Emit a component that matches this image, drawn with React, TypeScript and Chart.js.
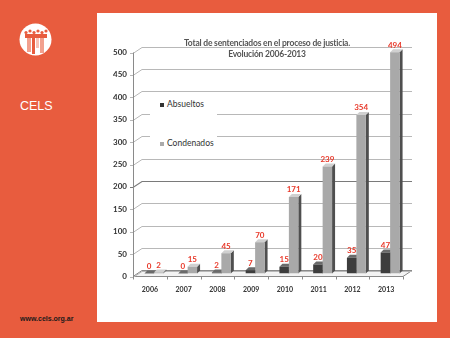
import React, { useEffect, useRef } from "react";
import { Chart, registerables } from "chart.js";

Chart.register(...registerables);

const years = ["2006", "2007", "2008", "2009", "2010", "2011", "2012", "2013"];
const absueltos = [0, 0, 2, 7, 15, 20, 35, 47];
const condenados = [2, 15, 45, 70, 171, 239, 354, 494];
const seriesNames = ["Absueltos", "Condenados"];
const yTicks = { min: 0, max: 500, step: 50 };

const ORANGE = "#E85C3E";
const DEPTH_X = 9;
const DEPTH_Y = 6;
const BAR_SHIFT_X = 4;
const BAR_SHIFT_Y = 3;
const BDX = 3;
const BDY = 3;

const frontColors = ["#3d3d3d", "#a9a9a9"];
const sideColors = ["#1e1e1e", "#4f4f4f"];
const topColors = ["#6a6a6a", "#d0d0d0"];

const fake3d = {
  id: "fake3d",
  beforeDatasetsDraw(chart: any) {
    const { ctx, chartArea } = chart;
    const { left, right } = chartArea;
    const y = chart.scales.y;
    const B = y.getPixelForValue(0);
    ctx.save();
    // floor
    ctx.beginPath();
    ctx.moveTo(left, B);
    ctx.lineTo(right, B);
    ctx.lineTo(right + DEPTH_X, B - DEPTH_Y);
    ctx.lineTo(left + DEPTH_X, B - DEPTH_Y);
    ctx.closePath();
    ctx.fillStyle = "#f3f3f3";
    ctx.fill();
    ctx.strokeStyle = "#8a8a8a";
    ctx.lineWidth = 1;
    ctx.stroke();
    // gridlines (3D)
    for (let v = yTicks.min; v <= yTicks.max; v += yTicks.step) {
      const py = Math.round(y.getPixelForValue(v)) + 0.5;
      ctx.beginPath();
      ctx.moveTo(left - 3, py);
      ctx.lineTo(left, py);
      ctx.lineTo(left + DEPTH_X, py - DEPTH_Y);
      ctx.lineTo(right + DEPTH_X, py - DEPTH_Y);
      ctx.strokeStyle = v === 200 ? "#7a7a7a" : "#b8b8b8";
      ctx.lineWidth = v === 200 ? 1.2 : 1;
      ctx.stroke();
    }
    // left axis
    ctx.beginPath();
    ctx.moveTo(left + 0.5, B + 2);
    ctx.lineTo(left + 0.5, y.getPixelForValue(yTicks.max));
    ctx.strokeStyle = "#8a8a8a";
    ctx.lineWidth = 1;
    ctx.stroke();
    // x tick marks
    const n = years.length;
    const w = (right - left) / n;
    for (let i = 0; i <= n; i++) {
      const px = Math.round(left + i * w) + 0.5;
      ctx.beginPath();
      ctx.moveTo(px, B);
      ctx.lineTo(px, B + 3);
      ctx.stroke();
    }
    ctx.restore();

    // bars: side & top faces (behind fronts)
    ctx.save();
    ctx.translate(BAR_SHIFT_X, -BAR_SHIFT_Y);
    chart.data.datasets.forEach((ds: any, di: number) => {
      const meta = chart.getDatasetMeta(di);
      meta.data.forEach((el: any) => {
        const p = el.getProps(["x", "y", "base", "width"], true);
        const l = p.x - p.width / 2;
        const r = p.x + p.width / 2;
        ctx.beginPath();
        ctx.moveTo(r, p.y);
        ctx.lineTo(r + BDX, p.y - BDY);
        ctx.lineTo(r + BDX, p.base - BDY);
        ctx.lineTo(r, p.base);
        ctx.closePath();
        ctx.fillStyle = sideColors[di];
        ctx.fill();
        ctx.beginPath();
        ctx.moveTo(l, p.y);
        ctx.lineTo(l + BDX, p.y - BDY);
        ctx.lineTo(r + BDX, p.y - BDY);
        ctx.lineTo(r, p.y);
        ctx.closePath();
        ctx.fillStyle = topColors[di];
        ctx.fill();
      });
    });
  },
  afterDatasetsDraw(chart: any) {
    const { ctx } = chart;
    ctx.font = "bold 8px Lato, 'Liberation Sans', sans-serif";
    ctx.fillStyle = "#e8392a";
    ctx.textAlign = "center";
    ctx.textBaseline = "middle";
    chart.data.datasets.forEach((ds: any, di: number) => {
      const meta = chart.getDatasetMeta(di);
      meta.data.forEach((el: any, i: number) => {
        const p = el.getProps(["x", "y"], true);
        ctx.fillText(String(ds.data[i]), p.x, p.y - 7);
      });
    });
    ctx.restore();
  },
};

function ChartPanel() {
  const ref = useRef<HTMLCanvasElement>(null);
  useEffect(() => {
    if (!ref.current) return;
    const chart = new Chart(ref.current, {
      type: "bar",
      data: {
        labels: years,
        datasets: [
          { label: seriesNames[0], data: absueltos, backgroundColor: frontColors[0], borderWidth: 0, categoryPercentage: 0.56, barPercentage: 1 },
          { label: seriesNames[1], data: condenados, backgroundColor: frontColors[1], borderWidth: 0, categoryPercentage: 0.56, barPercentage: 1 },
        ],
      },
      options: {
        responsive: false,
        animation: false,
        layout: { padding: { left: 0, top: 39.5, right: 34, bottom: 0 } },
        plugins: { legend: { display: false }, title: { display: false }, tooltip: { enabled: false } },
        scales: {
          x: {
            grid: { display: false, drawTicks: false },
            border: { display: false },
            ticks: { padding: 9, color: "#333", font: { family: "Lato, 'Liberation Sans', sans-serif", size: 7, weight: "bold" }, maxRotation: 0 },
            afterFit: (s: any) => { s.height = 45.5; },
          },
          y: {
            min: yTicks.min,
            max: yTicks.max,
            grid: { display: false, drawTicks: false },
            border: { display: false },
            ticks: { stepSize: yTicks.step, padding: 6, color: "#333", font: { family: "Lato, 'Liberation Sans', sans-serif", size: 8, weight: "bold" } },
            afterFit: (s: any) => { s.width = 36; },
          },
        },
      },
      plugins: [fake3d],
    });
    return () => chart.destroy();
  }, []);
  return <canvas ref={ref} width={340} height={309} style={{ position: "absolute", left: 0, top: 0, width: 340, height: 309 }} />;
}

export default function App() {
  return (
    <div style={{ position: "fixed", left: 0, top: 0, width: 450, height: 338, background: ORANGE, overflow: "hidden", fontFamily: "'Liberation Sans', Arial, sans-serif" }}>
      <svg width={40} height={40} style={{ position: "absolute", left: 16, top: 20 }} viewBox="0 0 40 40">
        <circle cx={19.5} cy={19.5} r={16} fill="#fff" />
        {[10, 14, 18, 22, 26, 30].map((cx, i) => (
          <circle key={"h" + i} cx={cx} cy={i % 2 ? 11 : 12.5} r={1.6} fill={ORANGE} />
        ))}
        <rect x={9} y={14} width={22} height={4} fill={ORANGE} />
        <rect x={11} y={18} width={4} height={14} fill="#f2a08e" />
        <rect x={16} y={18} width={3} height={16} fill={ORANGE} />
        <rect x={20} y={18} width={3} height={10} fill="#f7c3b7" />
        <rect x={24} y={18} width={4} height={15} fill="#f2a08e" />
      </svg>
      <div style={{ position: "absolute", left: 20, top: 100.4, fontSize: 12.5, lineHeight: "12.5px", color: "#fff" }}>CELS</div>
      <div style={{ position: "absolute", left: 20, top: 314.6, fontSize: 7, lineHeight: "7px", fontWeight: "bold", color: "#1a1a1a" }}>www.cels.org.ar</div>
      <div style={{ position: "absolute", left: 97, top: 13, width: 340, height: 309, background: "#fff" }}>
        <ChartPanel />
        <div style={{ position: "absolute", left: 0, top: 24.5, width: 340, textAlign: "center", fontFamily: "Lato, sans-serif", fontWeight: "bold", fontSize: 8.5, lineHeight: "11px", color: "#555", letterSpacing: -0.2 }}>
          Total de sentenciados en el proceso de justicia.<br />Evolución 2006-2013
        </div>
        <div style={{ position: "absolute", left: 53, top: 82, width: 67, height: 58, background: "#fff" }}>
          <div style={{ position: "absolute", left: 10, top: 4, fontFamily: "Lato, sans-serif", fontSize: 8.5, lineHeight: "10px", color: "#333", whiteSpace: "nowrap" }}>
            <span style={{ display: "inline-block", width: 4, height: 4, background: "#333", marginRight: 3, verticalAlign: "middle" }} />{seriesNames[0]}
          </div>
          <div style={{ position: "absolute", left: 10, top: 43, fontFamily: "Lato, sans-serif", fontSize: 8.5, lineHeight: "10px", color: "#333", whiteSpace: "nowrap" }}>
            <span style={{ display: "inline-block", width: 4, height: 4, background: "#aaa", marginRight: 3, verticalAlign: "middle" }} />{seriesNames[1]}
          </div>
        </div>
      </div>
    </div>
  );
}
